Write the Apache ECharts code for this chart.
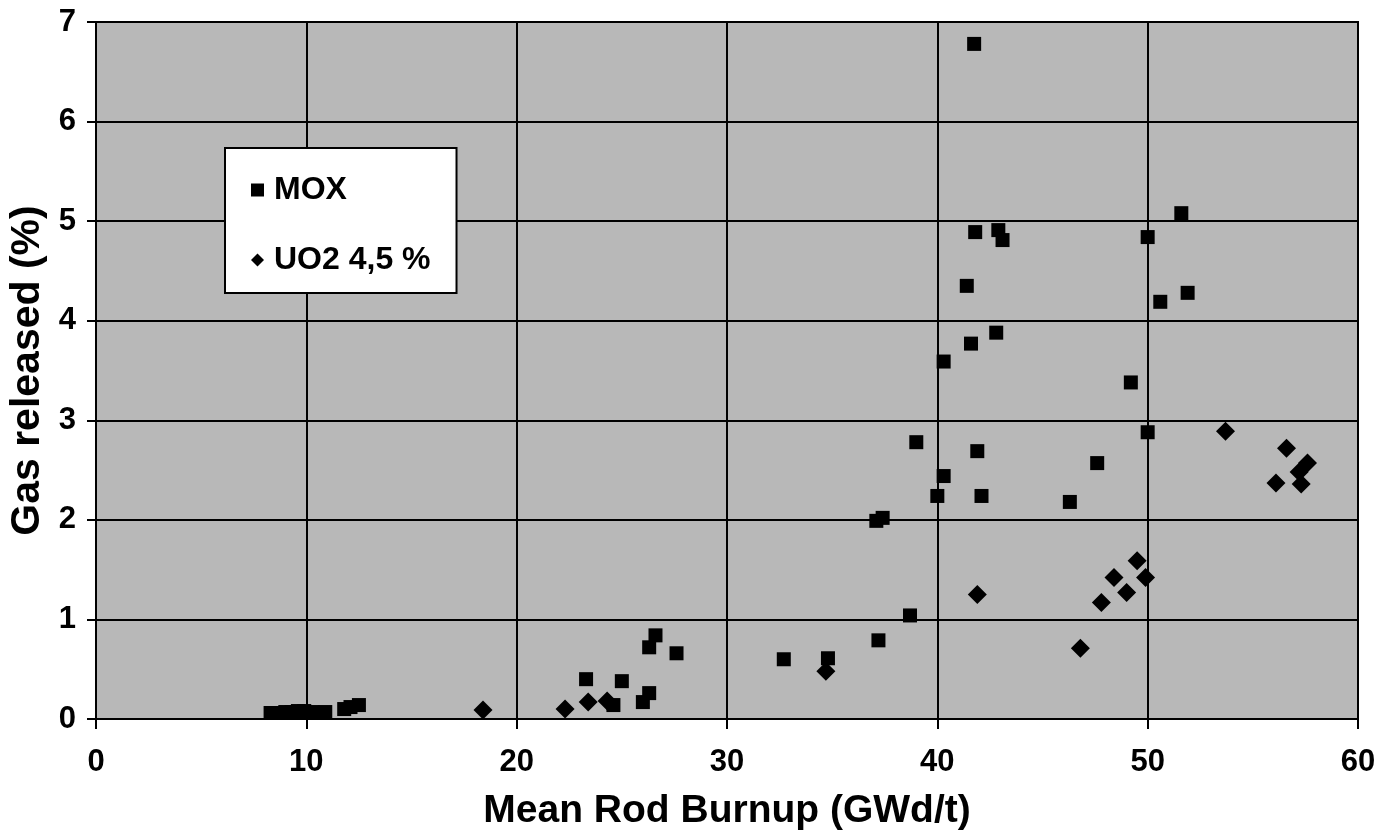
<!DOCTYPE html>
<html>
<head>
<meta charset="utf-8">
<script src="https://cdn.jsdelivr.net/npm/echarts@6/dist/echarts.min.js"></script>
<style>
html,body{margin:0;padding:0;background:#fff;}
#chart{width:1378px;height:837px;}
</style>
</head>
<body>
<div id="chart"></div>
<script>
// Data: [burnup GWd/t, gas released %]
const seriesNames = ['MOX', 'UO2 4,5 %'];
const moxData = [
  [8.3,0.06],[8.7,0.06],[9.0,0.07],[9.3,0.07],[9.6,0.08],[9.9,0.08],[10.3,0.07],[10.9,0.07],
  [11.8,0.10],[12.1,0.12],[12.5,0.14],
  [23.3,0.40],[24.6,0.14],[25.0,0.38],[26.0,0.17],[26.3,0.26],[26.3,0.72],[26.6,0.84],[27.6,0.66],
  [32.7,0.60],[34.8,0.61],[37.2,0.79],[38.7,1.04],[37.1,1.99],[37.4,2.02],
  [39.0,2.78],[40.0,2.24],[40.3,2.44],[40.3,3.59],[41.4,4.35],[41.6,3.77],[41.75,6.78],[41.8,4.89],
  [41.9,2.69],[42.1,2.24],[42.8,3.88],[42.9,4.91],[43.1,4.81],
  [46.3,2.18],[47.6,2.57],[49.2,3.38],[50.0,2.88],[50.0,4.84],[50.6,4.19],[51.6,5.08],[51.9,4.28]
];
const uo2Data = [
  [18.4,0.09],[22.3,0.10],[23.4,0.17],[24.3,0.18],[34.7,0.48],[41.9,1.25],[46.8,0.71],
  [47.8,1.17],[48.4,1.42],[49.0,1.27],[49.5,1.59],[49.9,1.42],
  [53.7,2.89],[56.1,2.37],[56.6,2.72],[57.2,2.48],[57.3,2.36],[57.6,2.57]
];
const xAxisName = 'Mean Rod Burnup (GWd/t)';
const yAxisName = 'Gas released (%)';
const xTicks = {min: 0, max: 60, interval: 10};
const yTicks = {min: 0, max: 7, interval: 1};

const FONT = '"Liberation Sans", Arial, Helvetica, sans-serif';
const chart = echarts.init(document.getElementById('chart'), null, {renderer: 'canvas'});
const axisCommon = {
  axisLine: {show: true, lineStyle: {color: '#000', width: 2}},
  axisTick: {show: true, inside: false, length: 10, lineStyle: {color: '#000', width: 2}},
  splitLine: {show: true, lineStyle: {color: '#000', width: 2}},
  axisLabel: {color: '#000', fontFamily: FONT, fontWeight: 'bold', fontSize: 31},
  nameTextStyle: {color: '#000', fontFamily: FONT, fontWeight: 'bold', fontSize: 39}
};
chart.setOption({
  backgroundColor: '#fff',
  animation: false,
  grid: {
    left: 96, right: 20, top: 22, bottom: 118,
    outerBoundsMode: 'none', containLabel: false,
    show: true, backgroundColor: '#b8b8b8', borderColor: '#000', borderWidth: 2
  },
  legend: {
    left: 225, top: 148,
    orient: 'vertical',
    backgroundColor: '#fff',
    borderColor: '#000', borderWidth: 2,
    padding: [26, 26, 17, 26],
    itemGap: 38,
    itemWidth: 13, itemHeight: 13,
    textStyle: {color: '#000', fontFamily: FONT, fontWeight: 'bold', fontSize: 32, padding: [0, 0, 0, 5]},
    data: [
      {name: seriesNames[0], icon: 'rect', itemStyle: {color: '#000'}},
      {name: seriesNames[1], icon: 'diamond', itemStyle: {color: '#000'}}
    ]
  },
  xAxis: Object.assign({}, axisCommon, {
    type: 'value', min: xTicks.min, max: xTicks.max, interval: xTicks.interval,
    name: xAxisName, nameLocation: 'middle', nameGap: 73,
    axisLabel: Object.assign({}, axisCommon.axisLabel, {margin: 28})
  }),
  yAxis: Object.assign({}, axisCommon, {
    type: 'value', min: yTicks.min, max: yTicks.max, interval: yTicks.interval,
    name: yAxisName, nameLocation: 'middle', nameGap: 28,
    nameTextStyle: Object.assign({}, axisCommon.nameTextStyle, {fontSize: 41}),
    axisTick: {show: true, length: 9, lineStyle: {color: '#000', width: 2}},
    axisLabel: Object.assign({}, axisCommon.axisLabel, {margin: 20})
  }),
  series: [
    {name: seriesNames[0], type: 'scatter', symbol: 'rect', symbolSize: 14,
     itemStyle: {color: '#000', opacity: 1}, data: moxData},
    {name: seriesNames[1], type: 'scatter', symbol: 'diamond', symbolSize: 19,
     itemStyle: {color: '#000', opacity: 1}, data: uo2Data}
  ]
});
</script>
</body>
</html>
